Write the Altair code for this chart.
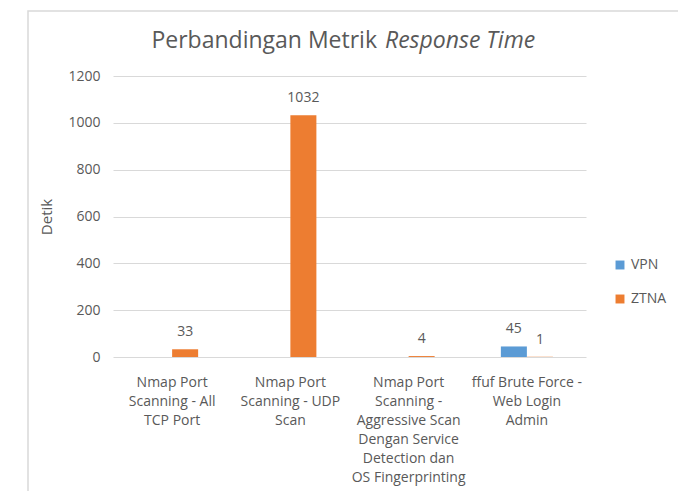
import altair as alt
import pandas as pd

categories = [
    "Nmap Port|Scanning - All|TCP Port",
    "Nmap Port|Scanning - UDP|Scan",
    "Nmap Port|Scanning -|Aggressive Scan|Dengan Service|Detection dan|OS Fingerprinting",
    "ffuf Brute Force -|Web Login|Admin",
]
series = ["VPN", "ZTNA"]
vpn_values = [None, None, None, 45]
ztna_values = [33, 1032, 4, 1]
colors = ["#5B9BD5", "#ED7D31"]

rows = []
for c, v in zip(categories, vpn_values):
    rows.append({"cat": c, "series": "VPN", "value": v})
for c, v in zip(categories, ztna_values):
    rows.append({"cat": c, "series": "ZTNA", "value": v})
df = pd.DataFrame(rows)

FONT = "Open Sans"
GRAY = "#595959"
W, H = 473, 281

x = alt.X("cat:N", sort=categories, title=None,
          scale=alt.Scale(paddingInner=0.56, paddingOuter=0.28),
          axis=alt.Axis(labelExpr="split(datum.label, '|')", labelAngle=0,
                        labelFontSize=14, labelColor=GRAY, labelFont=FONT,
                        labelLineHeight=19, labelPadding=18,
                        domain=False, ticks=False, labelLimit=200))
xo = alt.XOffset("series:N", sort=series, scale=alt.Scale(paddingInner=0, paddingOuter=0))
y = alt.Y("value:Q", title="Detik",
          scale=alt.Scale(domain=[0, 1200]),
          axis=alt.Axis(values=[0, 200, 400, 600, 800, 1000, 1200], format="d",
                        labelFontSize=14, labelColor=GRAY, labelFont=FONT,
                        titleFont=FONT, titleFontSize=15, titleColor=GRAY,
                        titleFontWeight="normal", titlePadding=13,
                        labelPadding=13, domain=False, ticks=False,
                        gridColor="#D9D9D9", gridWidth=1))
color = alt.Color("series:N", sort=series,
                  scale=alt.Scale(domain=series, range=colors),
                  legend=alt.Legend(title=None, orient="none", legendX=500, legendY=182,
                                    symbolType="square", symbolSize=80, symbolStrokeWidth=0,
                                    labelFont=FONT, labelFontSize=14, labelColor=GRAY,
                                    rowPadding=20, labelOffset=4))

base = alt.Chart(df)

card = alt.Chart(pd.DataFrame({"k": [0]})).mark_rect(
    fillOpacity=0, stroke="#D9D9D9", strokeWidth=1.5
).encode(x=alt.value(-85), x2=alt.value(568), y=alt.value(-65), y2=alt.value(440))

bars = base.mark_bar().encode(x=x, xOffset=xo, y=y, color=color)
labels = base.transform_filter("datum.value != null").mark_text(
    dy=-17, fontSize=14, font=FONT, color=GRAY
).encode(x=x, xOffset=xo, y="value:Q", text="value:Q")

t1 = alt.Chart(pd.DataFrame({"t": ["Perbandingan Metrik"]})).mark_text(
    align="right", baseline="alphabetic", fontSize=23, font=FONT, color=GRAY
).encode(text="t:N", x=alt.value(264), y=alt.value(-28))
t2 = alt.Chart(pd.DataFrame({"t": ["Response Time"]})).mark_text(
    align="left", baseline="alphabetic", fontSize=23, font=FONT, color=GRAY, fontStyle="italic"
).encode(text="t:N", x=alt.value(272), y=alt.value(-28))

chart = alt.layer(card, bars, labels, t1, t2).properties(
    width=W, height=H,
    autosize=alt.AutoSizeParams(type="none"),
    padding={"left": 105, "top": 68, "right": 92, "bottom": 134},
).configure(background="white").configure_view(stroke=None)

chart.save("out.html", embed_options={"renderer": "svg", "actions": False})
